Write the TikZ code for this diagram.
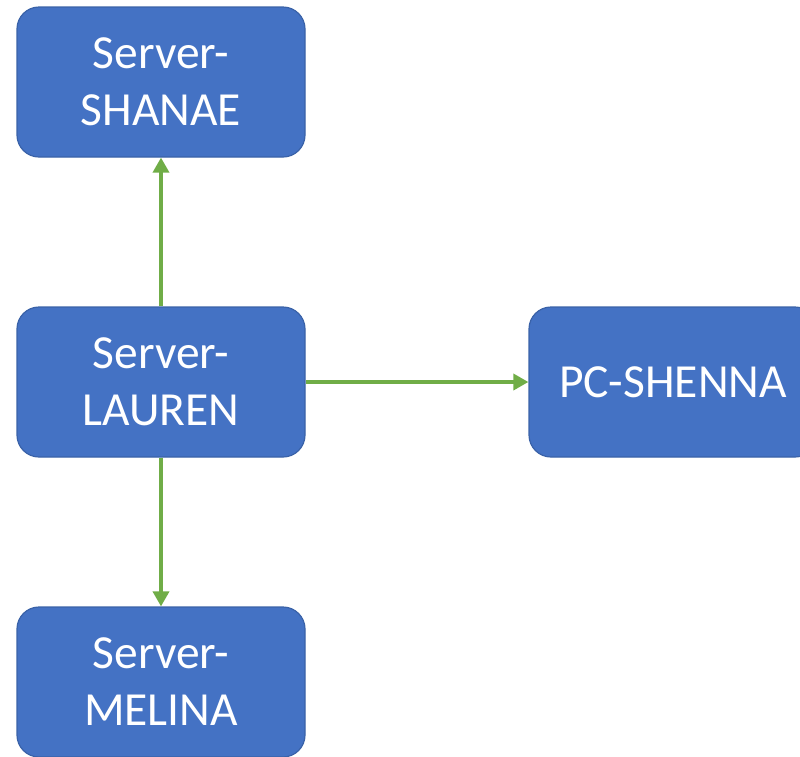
\documentclass[tikz,border=0pt]{standalone}
\usepackage{fontspec}
\setmainfont{Carlito}
\usetikzlibrary{arrows.meta}
\begin{document}
\begin{tikzpicture}[x=1pt,y=-1pt,
  box/.style={draw=blueborder, line width=1.2pt, fill=boxblue, rounded corners=22pt,
    minimum width=288pt, minimum height=150pt, text=white, align=center,
    font=\fontsize{47.5}{57}\selectfont, inner sep=0pt},
  link/.style={draw=linkgreen, line width=3.5pt, -{Triangle[length=15pt,width=16pt]}}]
\definecolor{boxblue}{HTML}{4472C4}
\definecolor{blueborder}{HTML}{3A62A8}
\definecolor{linkgreen}{HTML}{70AD47}
\useasboundingbox (0,0) rectangle (800,756);
\clip (0,0) rectangle (800,756);
\node[box] (shanae) at (161,82) {Server-\\SHANAE};
\node[box] (lauren) at (161,382) {Server-\\LAUREN};
\node[box] (melina) at (161,682) {Server-\\MELINA};
\node[box] (shenna) at (673,382) {PC-SHENNA};
\draw[link] (lauren.north) -- (shanae.south);
\draw[link] (lauren.south) -- (melina.north);
\draw[link] (lauren.east) -- (shenna.west);
\end{tikzpicture}
\end{document}
